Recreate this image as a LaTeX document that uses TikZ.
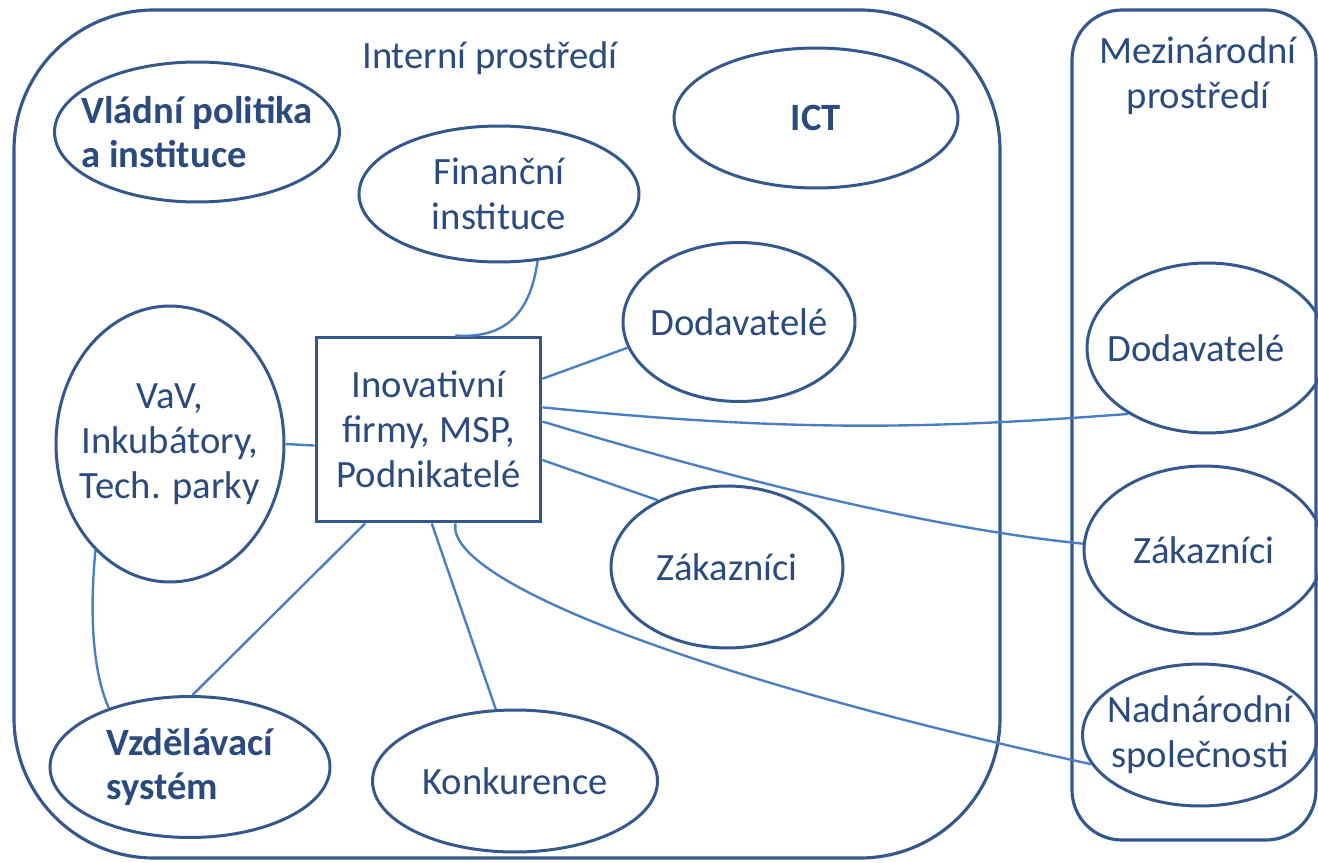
\documentclass[tikz,border=0pt]{standalone}
\usepackage{fontspec}
\setmainfont{Carlito}
\usetikzlibrary{shapes.geometric}
\definecolor{frame}{HTML}{34578C}
\definecolor{conn}{HTML}{4A7EC2}
\definecolor{txt}{HTML}{2B4B7E}
\tikzset{
  every node/.style={text=txt, font=\fontsize{22}{25.5}\selectfont},
  ell/.style={ellipse, draw=frame, line width=1.7pt, inner sep=-0.3cm, align=center},
  boldell/.style={ell, align=left, font=\fontsize{22}{25.5}\selectfont\bfseries},
  envbox/.style={draw=frame, line width=1.8pt},
  link/.style={draw=conn, line width=1.35pt},
}
\begin{document}
\begin{tikzpicture}[x=0.02cm, y=-0.02cm]
\useasboundingbox (0,0) rectangle (1318,862);
% environments
\draw[envbox, rounded corners=2.8cm] (14,10) rectangle (1000,858);
\draw[envbox, rounded corners=1cm] (1072,10) rectangle (1316,840);
\node (intl) at (490,58) {Interní prostředí};
\node[align=center] (mezl) at (1198,76) {Mezinárodní\\prostředí};
% nodes
\node[boldell, minimum width=5.68cm, minimum height=2.8cm] (vlad) at (197,132) {Vládní politika\\a instituce};
\node[ell, minimum width=5.68cm, minimum height=2.8cm, font=\fontsize{22}{25.5}\selectfont\bfseries] (ict) at (816,118) {ICT};
\node[ell, minimum width=5.6cm, minimum height=2.72cm] (fin) at (499,194) {Finanční\\instituce};
\node[ell, minimum width=4.64cm, minimum height=3.18cm] (dod1) at (739,322) {Dodavatelé};
\node[ell, minimum width=4.56cm, minimum height=5.52cm] (vav) at (170,444) {VaV,\\Inkubátory,\\Tech. parky};
\node[draw=frame, line width=1.7pt, minimum width=4.5cm, minimum height=3.7cm, align=center, inner sep=0pt] (firm) at (428.5,429.5) {Inovativní\\firmy, MSP,\\Podnikatelé};
\node[ell, minimum width=4.64cm, minimum height=3.24cm] (zak1) at (727,567) {Zákazníci};
\node[boldell, minimum width=5.6cm, minimum height=2.82cm] (vzd) at (190,767) {Vzdělávací\\systém};
\node[ell, minimum width=5.7cm, minimum height=2.84cm] (konk) at (515,781) {Konkurence};
\node[ell, minimum width=4.8cm, minimum height=3.4cm] (dod2) at (1207,348) {};
\node (dod2t) at (1196,348) {Dodavatelé};
\node[ell, minimum width=4.8cm, minimum height=3.36cm] (zak2) at (1204,550) {Zákazníci};
\node[ell, minimum width=4.7cm, minimum height=2.84cm] (nad) at (1200,735) {Nadnárodní\\společnosti};
% connectors
\draw[link] (fin.-60) .. controls +(-8,58) and +(45,3) .. (firm.74);
\draw[link] (firm.24.6) -- (dod1.193);
\draw[link] (firm.11.3) .. controls +(250,25) and +(-200,15) .. (dod2.220);
\draw[link] (firm.4.8) .. controls +(200,60) and +(-150,-15) .. (zak2.177);
\draw[link] (firm.-15.2) -- (zak1.136);
\draw[link] (firm.-74) .. controls +(-10,58) and +(-390,-85) .. (nad.195);
\draw[link] (firm.-124) -- (vzd.88);
\draw[link] (firm.-88) -- (konk.105);
\draw[link] (vav.0) -- (firm.-172.7);
\draw[link] (vav.-125) .. controls +(-7,73) and +(-14,-31) .. (vzd.144);
\end{tikzpicture}
\end{document}
